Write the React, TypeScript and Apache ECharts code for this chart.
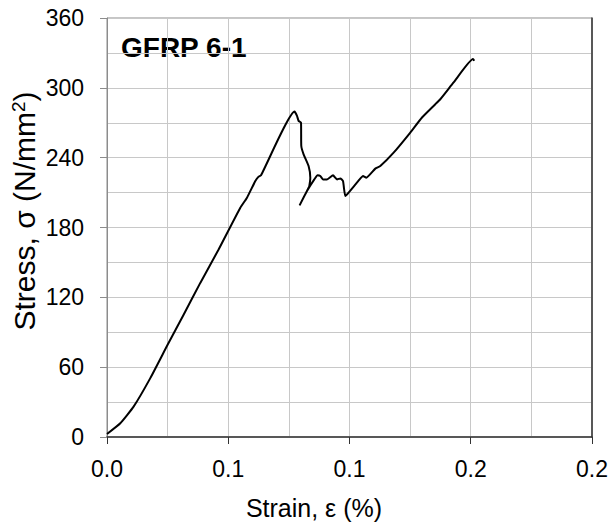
import React, { useEffect, useRef } from "react";
import * as echarts from "echarts";

const strain = [
  0, 0.00548, 0.01097, 0.01786, 0.02499, 0.03159, 0.03847, 0.04602, 0.05497, 0.05773,
  0.06116, 0.06252, 0.06351, 0.07736, 0.07835, 0.07901, 0.08, 0.08012, 0.08107, 0.08313,
  0.08384, 0.08342, 0.08313, 0.07942, 0.08247, 0.08549, 0.08685, 0.08796, 0.08907, 0.09072,
  0.0932, 0.09485, 0.09621, 0.09732, 0.09827, 0.09963, 0.10417, 0.10557, 0.10693, 0.11064,
  0.1127, 0.11819, 0.12507, 0.1299, 0.13538, 0.13744, 0.14293, 0.15093, 0.15146,
];
const stress = [
  2.6, 11.8, 26.1, 50.6, 79.2, 105.1, 132.4, 161.1, 197.0, 205.6,
  219.9, 223.7, 224.8, 279.6, 275.9, 271.6, 270.2, 250.0, 242.9, 232.8,
  222.8, 215.6, 214.2, 199.0, 211.3, 221.3, 224.8, 224.2, 221.3, 221.3,
  224.8, 221.3, 222.2, 219.9, 207.0, 209.9, 221.3, 224.2, 222.8, 230.6,
  232.8, 244.3, 261.6, 274.5, 285.9, 290.2, 304.6, 324.7, 323.2,
];
const xTickLabels = ["0.0", "0.1", "0.1", "0.2", "0.2"];
const yTickLabels = ["0", "60", "120", "180", "240", "300", "360"];
const chartTitle = "GFRP 6-1";
const xName = "Strain, ε (%)";
const yName = "Stress, σ (N/mm{sup|2})";

const FONT = "'Liberation Sans', Arial, sans-serif";

export default function App() {
  const ref = useRef<HTMLDivElement>(null);
  useEffect(() => {
    if (!ref.current) return;
    const chart = echarts.init(ref.current, undefined, { renderer: "svg" });
    const data = strain.map((x, i) => [x, stress[i]]);
    const gridLine = { show: true, lineStyle: { color: "#c8c8c8", width: 1 } };
    chart.setOption({
      animation: false,
      backgroundColor: "#ffffff",
      textStyle: { fontFamily: FONT },
      grid: {
        left: 107,
        right: 21,
        top: 18,
        bottom: 85,
        show: true,
        borderColor: "#8c8c8c",
        borderWidth: 1,
        outerBoundsMode: "none",
        containLabel: false,
      },
      graphic: [
        {
          type: "text",
          x: 121,
          y: 47.5,
          style: {
            text: chartTitle,
            font: `bold 28px ${FONT}`,
            fill: "#000",
            textVerticalAlign: "middle",
          },
        },
        {
          type: "text",
          x: 314,
          y: 507.5,
          style: {
            text: xName,
            font: `25px ${FONT}`,
            fill: "#000",
            textAlign: "center",
            textVerticalAlign: "middle",
          },
        },
        {
          type: "text",
          x: 24,
          y: 211,
          rotation: Math.PI / 2,
          style: {
            text: yName,
            fontFamily: FONT,
            fontSize: 30,
            fill: "#000",
            textAlign: "center",
            textVerticalAlign: "middle",
            rich: {
              sup: { fontSize: 19, fontFamily: FONT, fill: "#000", verticalAlign: "top", padding: [0, 0, 12, 0] },
            },
          },
        },
      ],
      xAxis: [
        {
          type: "value",
          min: 0,
          max: 0.2,
          interval: 0.05,
          axisLine: { show: true, onZero: false, lineStyle: { color: "#333", width: 1.5 } },
          axisTick: { show: true, inside: false, length: 7, lineStyle: { color: "#333" } },
          axisLabel: {
            fontSize: 23,
            color: "#000",
            margin: 20,
            fontFamily: FONT,
            formatter: (v: number) => xTickLabels[Math.round(v / 0.05)] ?? "",
          },
          splitLine: gridLine,
          minorTick: { show: false, splitNumber: 2 },
          minorSplitLine: gridLine,
        },
      ],
      yAxis: [
        {
          type: "value",
          min: 0,
          max: 360,
          interval: 60,
          axisLine: { show: true, onZero: false, lineStyle: { color: "#8c8c8c" } },
          axisTick: { show: true, inside: false, length: 7, lineStyle: { color: "#8c8c8c" } },
          axisLabel: {
            fontSize: 23,
            color: "#000",
            margin: 23,
            fontFamily: FONT,
            formatter: (v: number) => yTickLabels[Math.round(v / 60)] ?? "",
          },
          splitLine: gridLine,
          minorTick: { show: false, splitNumber: 2 },
          minorSplitLine: gridLine,
        },
        {
          type: "value",
          position: "right",
          min: 0,
          max: 360,
          interval: 60,
          axisLine: { show: true, onZero: false, lineStyle: { color: "#333", width: 1.5 } },
          axisTick: { show: false },
          axisLabel: { show: false },
          splitLine: { show: false },
        },
      ],
      series: [
        {
          type: "line",
          data,
          showSymbol: false,
          symbol: "none",
          smooth: 0.15,
          lineStyle: { color: "#000", width: 2 },
          z: 5,
        },
      ],
    });
    return () => chart.dispose();
  }, []);
  return (
    <div
      ref={ref}
      style={{ position: "fixed", left: 0, top: 0, width: 613, height: 522, background: "#fff" }}
    />
  );
}
